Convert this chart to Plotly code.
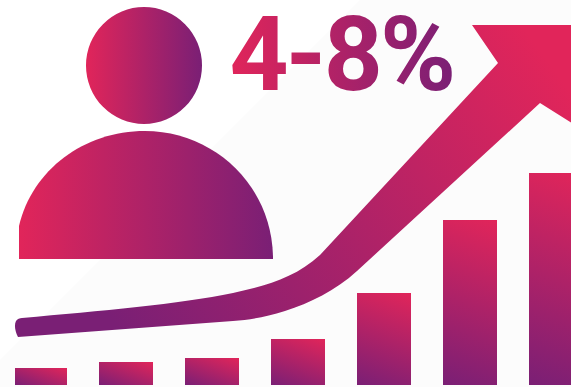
import json
import plotly.graph_objects as go

# Bar chart values along the foot of the graphic
bar_centers = [41, 126, 212, 298, 384, 470, 556]
bar_widths = [52, 54, 54, 54, 54, 54, 54]
bar_heights = [17, 23, 27, 46, 92, 165, 212]

headline = "4-8%"

RED = "#e1255a"
PURPLE = "#7a1f75"

# Person icon and growth arrow outlines, in canvas units
head_box = [86, 7, 202, 124]
body_outline = (
    "M 19 259 L 19 226 C 32 170 84 131 145 131 "
    "C 214 131 273 186 273 259 Z"
)
arrow_outline = (
    "M 472 25 L 575 25 L 575 125 L 540 103 L 357 271 "
    "C 335 291 310 303 285 311 C 265 317 250 320 233 321 "
    "L 18 337 C 15 331 14 325 16 321 C 17 319 20 318 22 318 "
    "C 100 311 180 304 233 293 C 265 286 295 278 320 255 "
    "L 498 63 Z"
)
backdrop = "M 360 0 L 571 0 L 571 387 L 0 387 L 0 360 Z"

fig = go.Figure()
fig.add_trace(go.Bar(
    x=bar_centers, y=bar_heights, width=bar_widths,
    marker=dict(color="#b0246a", line=dict(width=0)),
    hoverinfo="skip", showlegend=False,
))

fig.update_layout(
    width=571, height=387,
    margin=dict(l=0, r=0, t=0, b=0),
    paper_bgcolor="#ffffff", plot_bgcolor="#ffffff",
    showlegend=False,
    xaxis=dict(range=[0, 571], visible=False, fixedrange=True),
    yaxis=dict(range=[-2, 385], visible=False, fixedrange=True),
    yaxis2=dict(range=[387, 0], visible=False, overlaying="y", fixedrange=True),
    shapes=[
        dict(type="path", path=backdrop, xref="x", yref="y2", layer="below",
             fillcolor="#fcfcfc", line=dict(width=0)),
        dict(type="circle", x0=head_box[0], y0=head_box[1], x1=head_box[2], y1=head_box[3],
             xref="x", yref="y2", layer="below", fillcolor="#b0246a", line=dict(width=0)),
        dict(type="path", path=body_outline, xref="x", yref="y2", layer="below",
             fillcolor="#b0246a", line=dict(width=0)),
        dict(type="path", path=arrow_outline, xref="x", yref="y2", layer="below",
             fillcolor="#b0246a", line=dict(width=0)),
    ],
    annotations=[dict(
        text=headline, x=222, y=54, xref="x", yref="y2",
        xanchor="left", yanchor="middle", showarrow=False,
        font=dict(family="Roboto", size=103, weight=700, color="#b0246a"),
    )],
)

# SVG gradients applied to the rendered shapes, bars and headline
post = """
var gd = document.getElementById('{plot_id}');
var svg = gd.querySelector('.main-svg');
var defs = svg.querySelector('defs');
var NS = 'http://www.w3.org/2000/svg';
var RED = %s, PURPLE = %s;
function grad(id, units, x1, y1, x2, y2) {
  var g = document.createElementNS(NS, 'linearGradient');
  g.setAttribute('id', id);
  g.setAttribute('gradientUnits', units);
  g.setAttribute('x1', x1); g.setAttribute('y1', y1);
  g.setAttribute('x2', x2); g.setAttribute('y2', y2);
  [[0, RED], [1, PURPLE]].forEach(function (s) {
    var st = document.createElementNS(NS, 'stop');
    st.setAttribute('offset', s[0]);
    st.setAttribute('stop-color', s[1]);
    g.appendChild(st);
  });
  defs.appendChild(g);
}
function paint(el, id) { el.style.setProperty('fill', 'url(#' + id + ')'); }
grad('gH', 'objectBoundingBox', 0, 0, 1, 0);
grad('gA', 'userSpaceOnUse', 540, 50, 130, 345);
var shapes = gd.querySelectorAll('.shapelayer path');
paint(shapes[1], 'gH');
paint(shapes[2], 'gH');
paint(shapes[3], 'gA');
var label = gd.querySelector('.annotation-text');
label.style.setProperty('letter-spacing', '-2.7px');
paint(label, 'gH');
var tilt = 20 * Math.PI / 180, sx = Math.sin(tilt), cy = Math.cos(tilt);
gd.querySelectorAll('.bars .point path').forEach(function (p, i) {
  var b = p.getBBox(), len = b.width * sx + b.height * cy;
  var x1 = b.x + b.width, y1 = b.y;
  grad('gB' + i, 'userSpaceOnUse', x1, y1, x1 - len * sx, y1 + len * cy);
  paint(p, 'gB' + i);
});
""" % (json.dumps(RED), json.dumps(PURPLE))

fig.write_html("out.html", post_script=post, config=dict(displayModeBar=False, staticPlot=True))
